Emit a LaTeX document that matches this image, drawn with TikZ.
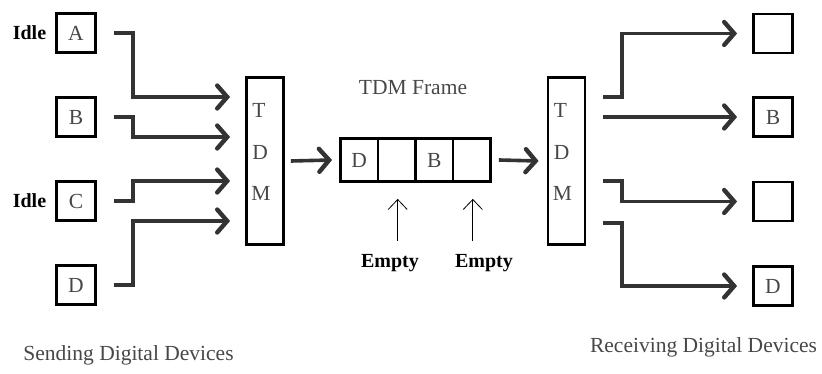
\documentclass[tikz,border=0pt]{standalone}
\usepackage{fontspec}
\setmainfont{Liberation Serif}
\usetikzlibrary{arrows.meta,calc}
\definecolor{wire}{HTML}{333333}
\definecolor{ink}{HTML}{474747}

\begin{document}
\begin{tikzpicture}[x=1pt,y=-1pt,
  txt/.style={inner sep=0pt,text=ink,font=\fontsize{21.5}{24}\selectfont},
  bold/.style={inner sep=0pt,text=black,font=\fontsize{20}{24}\selectfont\bfseries},
  dev/.style={draw=black,line width=2.8pt,minimum size=39pt,inner sep=0pt,
    text=ink,font=\fontsize{21.5}{24}\selectfont},
  mux/.style={draw=black,line width=2.8pt,minimum width=37pt,minimum height=167pt,inner sep=0pt},
  slot/.style={draw=black,line width=2.8pt,minimum width=37.5pt,minimum height=43pt,inner sep=0pt,
    text=ink,font=\fontsize{21.5}{24}\selectfont},
  link/.style={draw=wire,line width=3.6pt,
    -{Straight Barb[length=10pt,width=23pt,line width=4.4pt,line cap=round]}},
  pointer/.style={draw=black,line width=0.8pt,-{Straight Barb[length=10pt,width=19pt]}}
]
\useasboundingbox (0,0) rectangle (822,374);

% sending devices
\node[dev] (A) at (76,33) {A};
\node[dev] (B) at (76,117) {B};
\node[dev] (C) at (76,201) {C};
\node[dev] (D) at (76,285) {D};
\node[bold] (idleA) at (29.5,33) {Idle};
\node[bold] (idleC) at (29.5,201) {Idle};

% multiplexer and demultiplexer
\node[mux] (tdmL) at (265,161) {};
\node[mux] (tdmR) at (566.5,161) {};
\foreach \s/\m in {L/tdmL,R/tdmR}{
  \node[txt,anchor=west] (t\s) at ($(\m.west)+(7,-51)$) {T};
  \node[txt,anchor=west] (d\s) at ($(\m.west)+(7,-9)$) {D};
  \node[txt,anchor=west] (m\s) at ($(\m.west)+(6,32)$) {M};
}

% frame of four time slots
\node[slot] (c1) at (359.2,160) {D};
\node[slot] (c2) at (396.7,160) {};
\node[slot] (c3) at (434.3,160) {B};
\node[slot] (c4) at (471.8,160) {};
\node[txt] (frame) at (413,88) {TDM Frame};

% receiving devices
\node[dev] (R1) at (773,33.5) {};
\node[dev] (R2) at (773,117) {B};
\node[dev] (R3) at (773,201.5) {};
\node[dev] (R4) at (773,286) {D};

% inputs into the multiplexer
\coordinate (inA) at ($(tdmL.west)+(-15,-64)$);
\coordinate (inB) at ($(tdmL.west)+(-15,-24)$);
\coordinate (inC) at ($(tdmL.west)+(-15,20)$);
\coordinate (inD) at ($(tdmL.west)+(-15,60)$);
\draw[link] ($(A.east)+(17,0)$) -| ($(inA)+(-97,0)$) -- (inA);
\draw[link] ($(B.east)+(17,0)$) -| ($(inB)+(-97,0)$) -- (inB);
\draw[link] ($(C.east)+(17,0)$) -| ($(inC)+(-97,0)$) -- (inC);
\draw[link] ($(D.east)+(17,0)$) -| ($(inD)+(-97,0)$) -- (inD);

% frame in transit
\draw[link] ($(tdmL.east)+(6,0)$) -- ($(c1.west)+(-7,0)$);
\draw[link] ($(c4.east)+(7,0)$) -- ($(tdmR.west)+(-8,0)$);

% outputs of the demultiplexer
\draw[link] ($(tdmR.east)+(17,-64)$) -| ($(R1.west)+(-130,0)$) -- ($(R1.west)+(-15,0)$);
\draw[link] ($(tdmR.east)+(17,-44)$) -- ($(R2.west)+(-15,0)$);
\draw[link] ($(tdmR.east)+(17,20)$) -| ($(R3.west)+(-130,0)$) -- ($(R3.west)+(-15,0)$);
\draw[link] ($(tdmR.east)+(17,62)$) -| ($(R4.west)+(-130,0)$) -- ($(R4.west)+(-15,0)$);

% empty slot markers
\node[bold] (e1) at (390,263) {Empty};
\node[bold] (e2) at (484,263) {Empty};
\draw[pointer] ($(c2.south)+(1,58)$) -- ($(c2.south)+(1,16)$);
\draw[pointer] ($(c4.south)+(1,58)$) -- ($(c4.south)+(1,16)$);

% captions
\node[txt] (send) at (128.5,355) {Sending Digital Devices};
\node[txt] (recv) at (703.5,347) {Receiving Digital Devices};
\end{tikzpicture}
\end{document}
